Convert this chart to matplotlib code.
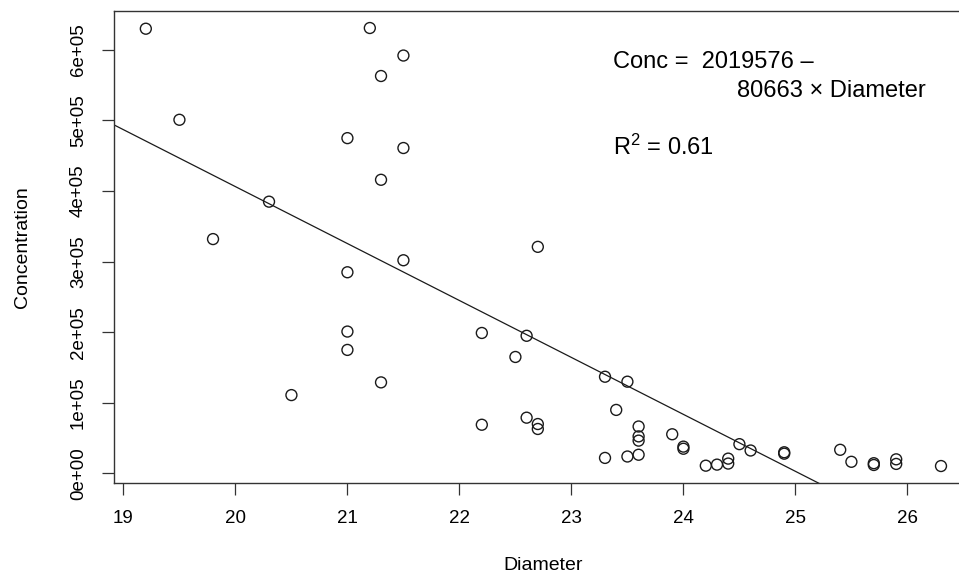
import matplotlib
matplotlib.use('Agg')
import numpy as np
from matplotlib import pyplot as plt

plt.rcParams['font.family'] = ['Liberation Sans', 'DejaVu Sans']
plt.rcParams['mathtext.fontset'] = 'custom'
plt.rcParams['mathtext.rm'] = 'Liberation Sans'
plt.rcParams['mathtext.it'] = 'Liberation Sans'

# trunk diameter vs. concentration
diameter = [19.2, 19.5, 19.8, 20.3, 20.5,
            21.0, 21.0, 21.0, 21.0, 21.2,
            21.3, 21.3, 21.3, 21.5, 21.5, 21.5,
            22.2, 22.2, 22.5, 22.6, 22.6, 22.7, 22.7, 22.7,
            23.3, 23.3, 23.4, 23.5, 23.5,
            23.6, 23.6, 23.6, 23.6, 23.9, 24.0, 24.0,
            24.2, 24.3, 24.4, 24.4, 24.5, 24.6, 24.9, 24.9,
            25.4, 25.5, 25.7, 25.7, 25.9, 25.9, 26.3]
concentration = [630000, 501000, 332000, 385000, 111000,
                 475000, 285000, 201000, 175000, 631000,
                 563000, 416000, 129000, 592000, 461000, 302000,
                 199000, 69000, 165000, 195000, 79000, 321000, 70000, 63000,
                 137000, 22000, 90000, 130000, 24000,
                 66500, 52500, 46500, 26500, 55500, 38000, 35000,
                 11000, 12500, 21000, 14000, 41500, 32500, 30000, 28000,
                 33500, 16500, 14500, 12000, 20000, 13500, 10500]

intercept = 2019576
slope = -80663

xticks = [19, 20, 21, 22, 23, 24, 25, 26]
yticks = [0, 100000, 200000, 300000, 400000, 500000, 600000]
ytick_labels = ['0e+00', '1e+05', '2e+05', '3e+05', '4e+05', '5e+05', '6e+05']

fig = plt.figure(figsize=(9.59, 5.76), dpi=100)
# right edge of the plot box is cut off by the image border
ax = fig.add_axes([0.1189, 0.1615, 0.8955, 0.8199])

ax.scatter(diameter, concentration, s=62, facecolors='none',
           edgecolors='#1a1a1a', linewidths=1.0, zorder=3)

xlim = (18.916, 26.584)
xs = np.array(xlim)
ax.plot(xs, intercept + slope * xs, color='#1a1a1a', lw=0.9, zorder=2)

ax.set_xlim(*xlim)
ax.set_ylim(-13500, 655500)

ax.set_xticks(xticks)
ax.set_xticklabels([str(t) for t in xticks])
ax.set_yticks(yticks)
ax.set_yticklabels(ytick_labels, rotation=90, va='center')

ax.tick_params(direction='out', length=8.5, width=0.9, color='#333333',
               labelsize=13.5, pad=11)
for sp in ax.spines.values():
    sp.set_color('#333333')
    sp.set_linewidth(1.0)

ax.set_xlabel('Diameter', fontsize=14, va='center')
ax.xaxis.set_label_coords(0.5, -0.175)
ax.set_ylabel('Concentration', fontsize=14, va='center', ha='center')
ax.yaxis.set_label_coords(-0.106, 0.5)

ax.text(23.37, 574800, 'Conc =  2019576 \u2013', fontsize=17, color='black')
ax.text(24.48, 533700, '80663 \u00d7 Diameter', fontsize=17, color='black')
ax.text(23.37, 451000, r'R$^{\mathrm{2}}$ = 0.61', fontsize=17, color='black')

fig.savefig('out.png', dpi=100)
